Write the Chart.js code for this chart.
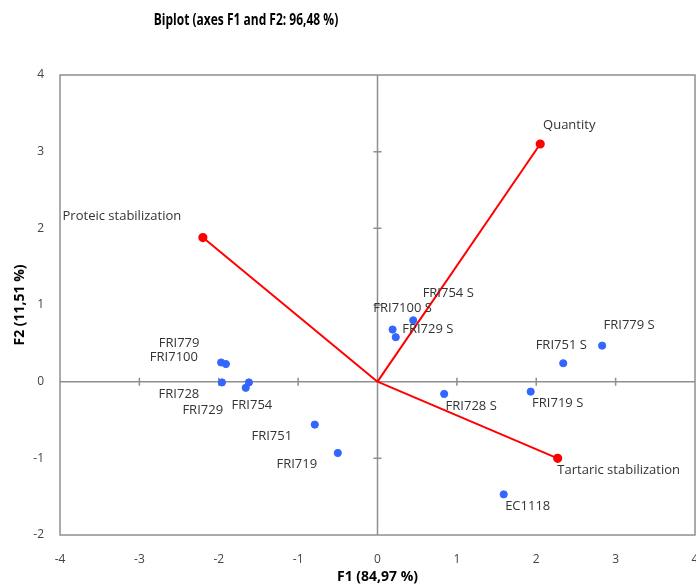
<!DOCTYPE html>
<html>
<head>
<meta charset="utf-8">
<title>Biplot</title>
<script src="https://cdn.jsdelivr.net/npm/chart.js@4.4.1/dist/chart.umd.min.js"></script>
<style>
  html, body { margin: 0; padding: 0; background: #ffffff; }
  #wrap { width: 696px; height: 584px; position: relative; }
</style>
</head>
<body>
<div id="wrap"><canvas id="biplot" width="696" height="584"></canvas></div>
<script>
// Observations (factor scores on F1 / F2)
const obsNames = ['FRI779', 'FRI7100', 'FRI728', 'FRI729', 'FRI754', 'FRI751', 'FRI719',
                  'FRI754 S', 'FRI7100 S', 'FRI729 S', 'FRI728 S', 'FRI779 S', 'FRI751 S', 'FRI719 S', 'EC1118'];
const obsF1 = [-1.97, -1.91, -1.96, -1.66, -1.62, -0.79, -0.50,
               0.45, 0.19, 0.23, 0.84, 2.83, 2.34, 1.93, 1.59];
const obsF2 = [0.25, 0.23, -0.01, -0.08, -0.01, -0.56, -0.93,
               0.80, 0.68, 0.58, -0.16, 0.47, 0.24, -0.13, -1.47];

// Variables (loadings on F1 / F2)
const varNames = ['Quantity', 'Proteic stabilization', 'Tartaric stabilization'];
const varF1 = [2.05, -2.20, 2.27];
const varF2 = [3.10, 1.88, -1.00];

// Axis ranges and tick values
const xTicks = [-4, -3, -2, -1, 0, 1, 2, 3, 4];
const yTicks = [-2, -1, 0, 1, 2, 3, 4];

const titleText = 'Biplot (axes F1 and F2: 96,48 %)';
const xTitle = 'F1 (84,97 %)';
const yTitle = 'F2 (11,51 %)';

// Label placement relative to each marker (pixels)
const labelOffsets = {
  'FRI779': [-42, -19], 'FRI7100': [-52, -7], 'FRI728': [-43, 12], 'FRI729': [-43, 22],
  'FRI754': [3, 23], 'FRI751': [-43, 12], 'FRI719': [-41, 11],
  'FRI754 S': [35, -27], 'FRI7100 S': [10, -21], 'FRI729 S': [32, -8], 'FRI728 S': [27, 12],
  'FRI779 S': [27, -20], 'FRI751 S': [-2, -18], 'FRI719 S': [27, 12], 'EC1118': [24, 12],
  'Quantity': [29, -19], 'Proteic stabilization': [-81, -21], 'Tartaric stabilization': [61, 12]
};

const FONT = '"Open Sans", "DejaVu Sans", sans-serif';
const GRAY = '#8f8f8f';
const BLUE = '#3366ff';
const RED = '#ff0000';

const obsPoints = obsNames.map((n, i) => ({ x: obsF1[i], y: obsF2[i], name: n }));

const varDatasets = varNames.map((n, i) => ({
  label: n,
  data: [{ x: 0, y: 0 }, { x: varF1[i], y: varF2[i], name: n }],
  showLine: true,
  borderColor: RED,
  borderWidth: 2,
  backgroundColor: RED,
  pointBackgroundColor: RED,
  pointBorderColor: RED,
  pointRadius: [0, 3.6],
  pointHoverRadius: [0, 3.6],
  order: 2
}));

// Frame, zero axes with small cross ticks
const framePlugin = {
  id: 'frame',
  beforeDatasetsDraw(chart) {
    const { ctx, chartArea: a, scales: { x, y } } = chart;
    ctx.save();
    ctx.strokeStyle = GRAY;
    ctx.lineWidth = 1.5;
    ctx.strokeRect(a.left, a.top, a.right - a.left, a.bottom - a.top);
    const x0 = x.getPixelForValue(0);
    const y0 = y.getPixelForValue(0);
    ctx.beginPath();
    ctx.moveTo(a.left, y0); ctx.lineTo(a.right, y0);
    ctx.moveTo(x0, a.top); ctx.lineTo(x0, a.bottom);
    xTicks.forEach(v => {
      if (v === xTicks[0] || v === xTicks[xTicks.length - 1] || v === 0) return;
      const px = x.getPixelForValue(v);
      ctx.moveTo(px, y0 - 4); ctx.lineTo(px, y0 + 4);
    });
    yTicks.forEach(v => {
      if (v === yTicks[0] || v === yTicks[yTicks.length - 1] || v === 0) return;
      const py = y.getPixelForValue(v);
      ctx.moveTo(x0 - 4, py); ctx.lineTo(x0 + 4, py);
    });
    ctx.stroke();
    ctx.restore();
  }
};

// Point labels, chart title and axis titles
const textPlugin = {
  id: 'texts',
  afterDatasetsDraw(chart) {
    const { ctx, chartArea: a, scales: { x, y } } = chart;
    ctx.save();
    ctx.fillStyle = '#333333';
    ctx.font = '13px ' + FONT;
    ctx.textAlign = 'center';
    ctx.textBaseline = 'middle';
    const allPts = obsPoints.concat(varNames.map((n, i) => ({ x: varF1[i], y: varF2[i], name: n })));
    allPts.forEach(p => {
      const off = labelOffsets[p.name] || [0, -12];
      ctx.fillText(p.name, x.getPixelForValue(p.x) + off[0], y.getPixelForValue(p.y) + off[1]);
    });

    ctx.fillStyle = '#000000';
    // condensed bold heading
    ctx.save();
    ctx.font = 'bold 16px ' + FONT;
    ctx.translate(246, 20);
    ctx.scale(0.75, 1);
    ctx.fillText(titleText, 0, 0);
    ctx.restore();

    ctx.font = 'bold 14px ' + FONT;
    ctx.fillText(xTitle, (a.left + a.right) / 2, 577);
    ctx.translate(20, (a.top + a.bottom) / 2);
    ctx.rotate(-Math.PI / 2);
    ctx.fillText(yTitle, 0, 0);
    ctx.restore();
  }
};

// edge tick labels may overhang the plot frame; keep the plot area fixed
const noPadding = () => ({ left: 0, top: 0, right: 0, bottom: 0 });

new Chart(document.getElementById('biplot'), {
  type: 'scatter',
  data: {
    datasets: [
      {
        label: 'Observations',
        data: obsPoints,
        backgroundColor: BLUE,
        borderColor: BLUE,
        pointRadius: 3.6,
        pointHoverRadius: 3.6,
        order: 1
      },
      ...varDatasets
    ]
  },
  options: {
    responsive: false,
    animation: false,
    events: [],
    layout: { autoPadding: false, padding: { top: 75, right: 1, left: 0, bottom: 0 } },
    plugins: {
      legend: { display: false },
      title: { display: false },
      tooltip: { enabled: false }
    },
    scales: {
      x: {
        type: 'linear',
        min: xTicks[0],
        max: xTicks[xTicks.length - 1],
        grid: { display: false },
        border: { display: false },
        afterBuildTicks: s => { s.ticks = xTicks.map(v => ({ value: v })); },
        afterFit: s => { s.height = 49; s.paddingLeft = 0; s.paddingRight = 0; s.getPadding = noPadding; },
        ticks: { padding: 9, color: '#444444', font: { family: FONT, size: 12 } }
      },
      y: {
        type: 'linear',
        min: yTicks[0],
        max: yTicks[yTicks.length - 1],
        grid: { display: false },
        border: { display: false },
        afterBuildTicks: s => { s.ticks = yTicks.map(v => ({ value: v })); },
        afterFit: s => { s.width = 60; s.paddingTop = 0; s.paddingBottom = 0; s.getPadding = noPadding; },
        ticks: { padding: 8, color: '#444444', font: { family: FONT, size: 12 } }
      }
    }
  },
  plugins: [framePlugin, textPlugin]
});
</script>
</body>
</html>
